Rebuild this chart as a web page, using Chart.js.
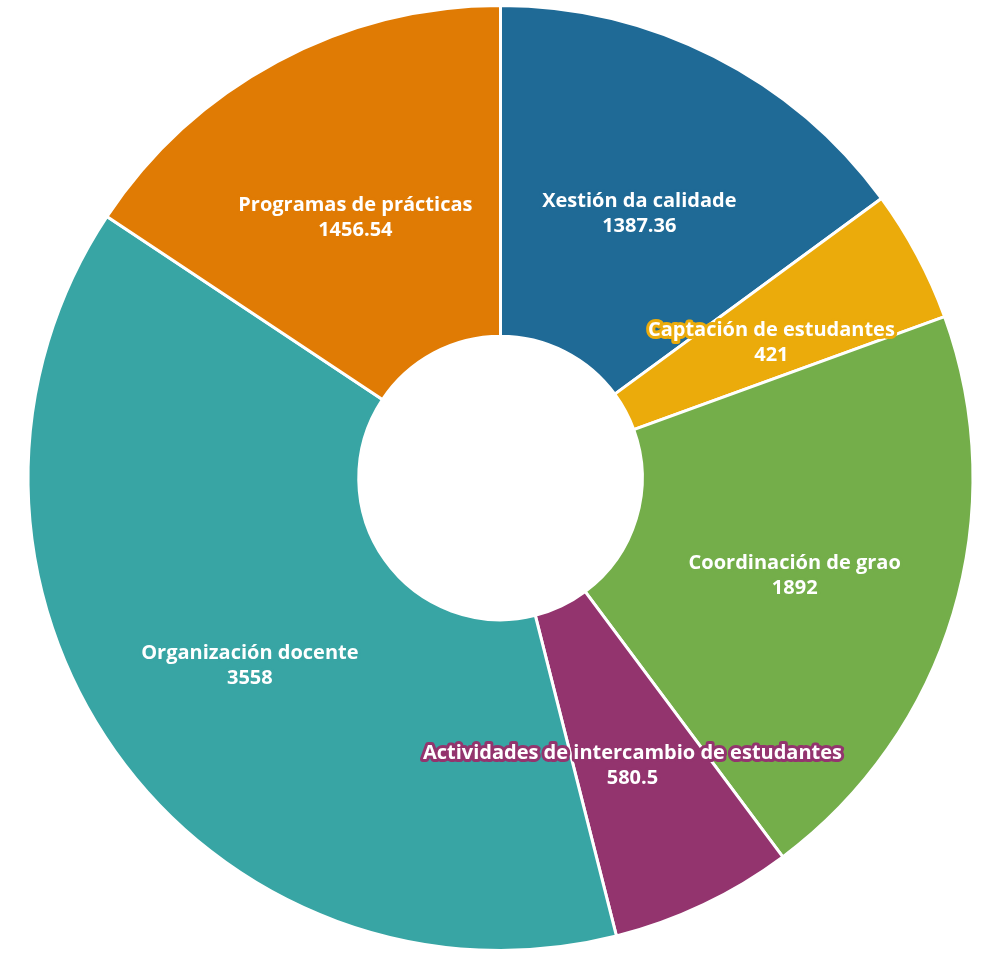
<!DOCTYPE html>
<html>
<head>
<meta charset="utf-8">
<script src="https://cdn.jsdelivr.net/npm/chart.js@4/dist/chart.umd.min.js"></script>
<style>
  html, body { margin: 0; padding: 0; background: #fff; }
  #wrap { width: 985px; height: 956px; }
</style>
</head>
<body>
<div id="wrap"><canvas id="donutChart" width="985" height="956"></canvas></div>
<script>
const categories = ['Xestión da calidade', 'Captación de estudantes', 'Coordinación de grao',
  'Actividades de intercambio de estudantes', 'Organización docente', 'Programas de prácticas'];
const values = [1387.36, 421, 1892, 580.5, 3558, 1456.54];
const valueLabels = ['1387.36', '421', '1892', '580.5', '3558', '1456.54'];
const colors = ['#1f6a96', '#ebab0b', '#74ae4a', '#93346e', '#38a5a4', '#e07b04'];

// labels in the middle of each slice, white with an outline in the slice colour
const sliceLabels = {
  id: 'sliceLabels',
  afterDatasetsDraw(chart) {
    const ctx = chart.ctx;
    const arcs = chart.getDatasetMeta(0).data;
    ctx.save();
    ctx.font = 'bold 20px "Open Sans", sans-serif';
    ctx.textAlign = 'center';
    ctx.textBaseline = 'middle';
    ctx.lineJoin = 'round';
    arcs.forEach((arc, i) => {
      const p = arc.getCenterPoint();
      const lines = [categories[i], valueLabels[i]];
      lines.forEach((txt, j) => {
        const y = p.y + 10 + (j - 0.5) * 25;
        ctx.lineWidth = 6;
        ctx.strokeStyle = colors[i];
        ctx.strokeText(txt, p.x, y);
        ctx.fillStyle = '#ffffff';
        ctx.fillText(txt, p.x, y);
      });
    });
    ctx.restore();
  }
};

new Chart(document.getElementById('donutChart').getContext('2d'), {
  type: 'doughnut',
  data: {
    labels: categories,
    datasets: [{
      data: values,
      backgroundColor: colors,
      borderColor: '#ffffff',
      borderWidth: 3
    }]
  },
  options: {
    responsive: false,
    animation: false,
    cutout: '30%',
    layout: { padding: { left: 16, right: 0, top: 4, bottom: 4 } },
    plugins: {
      legend: { display: false },
      tooltip: { enabled: false }
    }
  },
  plugins: [sliceLabels]
});
</script>
</body>
</html>
